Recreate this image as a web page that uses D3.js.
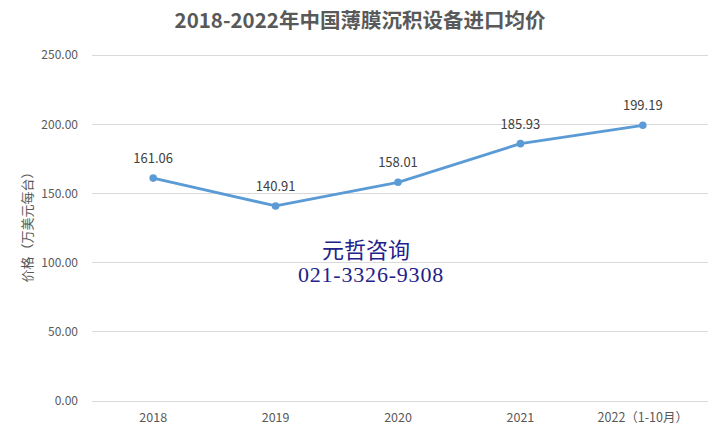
<!DOCTYPE html>
<html><head><meta charset="utf-8">
<script src="https://cdnjs.cloudflare.com/ajax/libs/d3/7.8.5/d3.min.js"></script>
<style>body{margin:0;background:#fff;}svg{display:block;}</style>
</head><body>
<script>
const categories = ["2018","2019","2020","2021","2022（1-10月）"];
const values = [161.06,140.91,158.01,185.93,199.19];
const yTicks = [0,50,100,150,200,250];
const title = "2018-2022年中国薄膜沉积设备进口均价";
const yLabel = "价格（万美元每台）";
const watermark = ["元哲咨询","021-3326-9308"];

const W=719,H=439;
const svg=d3.select("body").append("svg").attr("width",W).attr("height",H);
const font="'Noto Sans CJK SC','Noto Sans',sans-serif";
const x=d3.scaleBand().domain(categories).range([92,704]);
const y=d3.scaleLinear().domain([0,250]).range([401,55]);

// gridlines
svg.append("g").selectAll("line").data(yTicks).join("line")
 .attr("x1",92).attr("x2",708).attr("y1",d=>y(d)).attr("y2",d=>y(d))
 .attr("stroke","#d9d9d9").attr("stroke-width",1).attr("shape-rendering","crispEdges");

// y axis labels
const yAxis=d3.axisLeft(y).tickValues(yTicks).tickFormat(d3.format(".2f")).tickSize(0).tickPadding(0);
const gy=svg.append("g").attr("transform","translate(78,0)").call(yAxis);
gy.select(".domain").remove();
gy.selectAll("text").attr("fill","#595959").style("font-family",font).style("font-size","12px");

// x axis labels
const xAxis=d3.axisBottom(x).tickSize(0).tickPadding(0);
const gx=svg.append("g").attr("transform","translate(0,413)").call(xAxis);
gx.select(".domain").remove();
gx.selectAll("text").attr("fill","#595959").style("font-family",font).style("font-size","12.5px");

// title
svg.append("text").attr("x",360).attr("y",28).attr("text-anchor","middle")
 .attr("fill","#595959").style("font-family",font).style("font-size","20.5px").style("font-weight","bold").text(title);

// y label
svg.append("text").attr("transform","translate(32,224) rotate(-90)").attr("text-anchor","middle")
 .attr("fill","#595959").style("font-family",font).style("font-size","13px").text(yLabel);

// line
const cx=d=>x(d)+x.bandwidth()/2;
const line=d3.line().x((d,i)=>cx(categories[i])).y(d=>y(d));
svg.append("path").datum(values).attr("d",line).attr("fill","none").attr("stroke","#5b9bd5")
 .attr("stroke-width",2.8).attr("stroke-linejoin","round").attr("stroke-linecap","round");
svg.append("g").selectAll("circle").data(values).join("circle")
 .attr("cx",(d,i)=>cx(categories[i])).attr("cy",d=>y(d)).attr("r",3.8).attr("fill","#5b9bd5");
svg.append("g").selectAll("text").data(values).join("text")
 .attr("x",(d,i)=>cx(categories[i])).attr("y",d=>y(d)-15).attr("text-anchor","middle")
 .attr("fill","#404040").style("font-family",font).style("font-size","13px").text(d=>d.toFixed(2));

// watermark
const wf="'Liberation Serif','Noto Sans CJK SC',serif";
svg.append("text").attr("x",366).attr("y",258).attr("text-anchor","middle").attr("fill","#22228a")
 .style("font-family",wf).style("font-size","22px").text(watermark[0]);
svg.append("text").attr("x",371).attr("y",282).attr("text-anchor","middle").attr("fill","#22228a")
 .style("font-family",wf).style("font-size","22px").style("letter-spacing","0.8px").text(watermark[1]);
</script>
</body></html>
